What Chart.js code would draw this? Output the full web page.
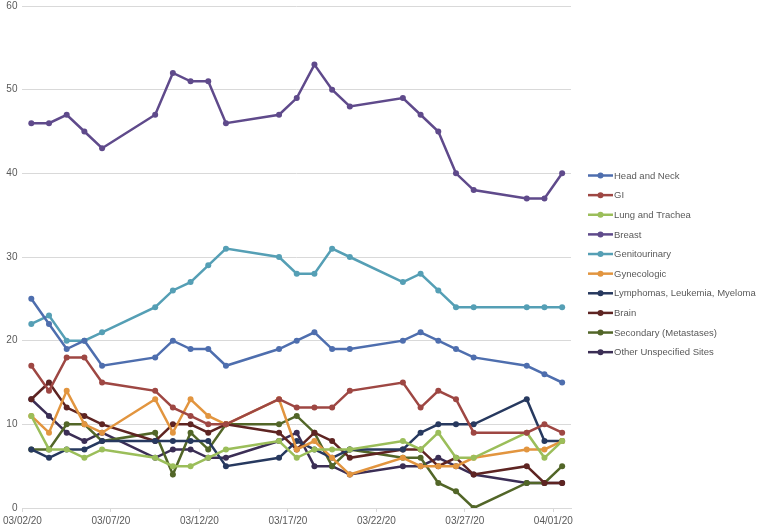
<!DOCTYPE html>
<html>
<head>
<meta charset="utf-8">
<script src="https://cdn.jsdelivr.net/npm/chart.js@4/dist/chart.umd.min.js"></script>
<style>
  html, body { margin: 0; padding: 0; background: #fff; }
</style>
</head>
<body>
<canvas id="c" width="759" height="529"></canvas>
<script>
// dates in the sheet (weekdays only)
const dates = ['03/02/20','03/03/20','03/04/20','03/05/20','03/06/20',
  '03/09/20','03/10/20','03/11/20','03/12/20','03/13/20',
  '03/16/20','03/17/20','03/18/20','03/19/20','03/20/20',
  '03/23/20','03/24/20','03/25/20','03/26/20','03/27/20',
  '03/30/20','03/31/20','04/01/20'];
const tickLabels = ['03/02/20','03/07/20','03/12/20','03/17/20','03/22/20','03/27/20','04/01/20'];

const headNeck  = [25,22,19,20,17, 18,20,19,19,17, 19,20,21,19,19, 20,21,20,19,18, 17,16,15];
const gi        = [17,14,18,18,15, 14,12,11,10,10, 13,12,12,12,14, 15,12,14,13,9, 9,10,9];
const lung      = [11,7,7,6,7, 6,5,5,6,7, 8,6,7,7,7, 8,7,9,6,6, 9,6,8];
const breast    = [46,46,47,45,43, 47,52,51,51,46, 47,49,53,50,48, 49,47,45,40,38, 37,37,40];
const genito    = [22,23,20,20,21, 24,26,27,29,31, 30,28,28,31,30, 27,28,26,24,24, 24,24,24];
const gyneco    = [11,9,14,10,9, 13,9,13,11,10, 13,7,8,6,4, 6,5,5,5,6, 7,7,8];
const lymphoma  = [7,6,7,7,8, 8,8,8,8,5, 6,8,7,6,7, 7,9,10,10,10, 13,8,8];
const brain     = [13,15,12,11,10, 8,10,10,9,10, 9,7,9,8,6, 7,7,5,6,4, 5,3,3];
const secondary = [7,7,10,10,8, 9,4,9,7,10, 10,11,9,5,7, 6,6,3,2,0, 3,3,5];
const other     = [13,11,9,8,9, 6,7,7,6,6, 8,9,5,5,4, 5,5,6,5,4, 3,3,3];

const seriesNames = ['Head and Neck','GI','Lung and Trachea','Breast','Genitourinary','Gynecologic',
  'Lymphomas, Leukemia, Myeloma','Brain','Secondary (Metastases)','Other Unspecified Sites'];
const seriesData = [headNeck, gi, lung, breast, genito, gyneco, lymphoma, brain, secondary, other];
const colors = ['#4E6EAE','#9E4743','#9BBE5A','#5F4A8B','#559FB5','#E2953F',
  '#27395F','#5E2422','#526628','#3B2E55'];

// day offset from first date; points sit in the middle of their day
const toDate = s => { const [m, d, y] = s.split('/').map(Number); return new Date(2000 + y, m - 1, d); };
const day0 = toDate(dates[0]);
const xs = dates.map(s => Math.round((toDate(s) - day0) / 86400000) + 0.5);

const FONT = { family: '"Liberation Sans", Arial, sans-serif', size: 10 };
const TXT = '#595959';

const legendPlugin = {
  id: 'sideLegend',
  afterDraw(chart) {
    const { ctx } = chart;
    ctx.save();
    chart.data.datasets.forEach((ds, i) => {
      const y = 175.5 + i * 19.63;
      ctx.strokeStyle = ds.borderColor;
      ctx.lineWidth = 2.5;
      ctx.beginPath();
      ctx.moveTo(588, y);
      ctx.lineTo(613, y);
      ctx.stroke();
      ctx.fillStyle = ds.borderColor;
      ctx.beginPath();
      ctx.arc(600.5, y, 3, 0, Math.PI * 2);
      ctx.fill();
      ctx.fillStyle = TXT;
      ctx.font = '9.5px "Liberation Sans", Arial, sans-serif';
      ctx.textBaseline = 'middle';
      ctx.textAlign = 'left';
      ctx.fillText(ds.label, 614, y + 0.5);
    });
    ctx.restore();
  }
};

new Chart(document.getElementById('c'), {
  type: 'line',
  data: {
    datasets: seriesNames.map((name, i) => ({
      label: name,
      data: seriesData[i].map((v, j) => ({ x: xs[j], y: v })),
      borderColor: colors[i],
      backgroundColor: colors[i],
      borderWidth: 2.5,
      pointRadius: 3,
      pointBorderWidth: 0,
      tension: 0,
    }))
  },
  options: {
    responsive: false,
    animation: false,
    layout: { padding: { left: 0, right: 188, top: 0, bottom: 0 } },
    plugins: { legend: { display: false }, tooltip: { enabled: false } },
    scales: {
      x: {
        type: 'linear', min: 0, max: 31,
        afterBuildTicks: s => { s.ticks = tickLabels.map((_, i) => ({ value: i * 5 })); },
        afterFit: s => { s.height = 21; },
        ticks: { callback: v => tickLabels[v / 5], color: TXT, font: FONT, padding: 3, maxRotation: 0, autoSkip: false },
        grid: { drawOnChartArea: false, drawTicks: true, tickLength: 4, color: '#D9D9D9' },
        border: { display: true, color: '#D9D9D9' },
      },
      y: {
        min: 0, max: 60,
        afterFit: s => { s.width = 22; s.paddingTop = 6; s.paddingBottom = 0; },
        ticks: { stepSize: 10, color: TXT, font: FONT, padding: 5 },
        grid: { color: '#D9D9D9', drawTicks: false },
        border: { display: false },
      }
    }
  },
  plugins: [legendPlugin]
});
</script>
</body>
</html>
